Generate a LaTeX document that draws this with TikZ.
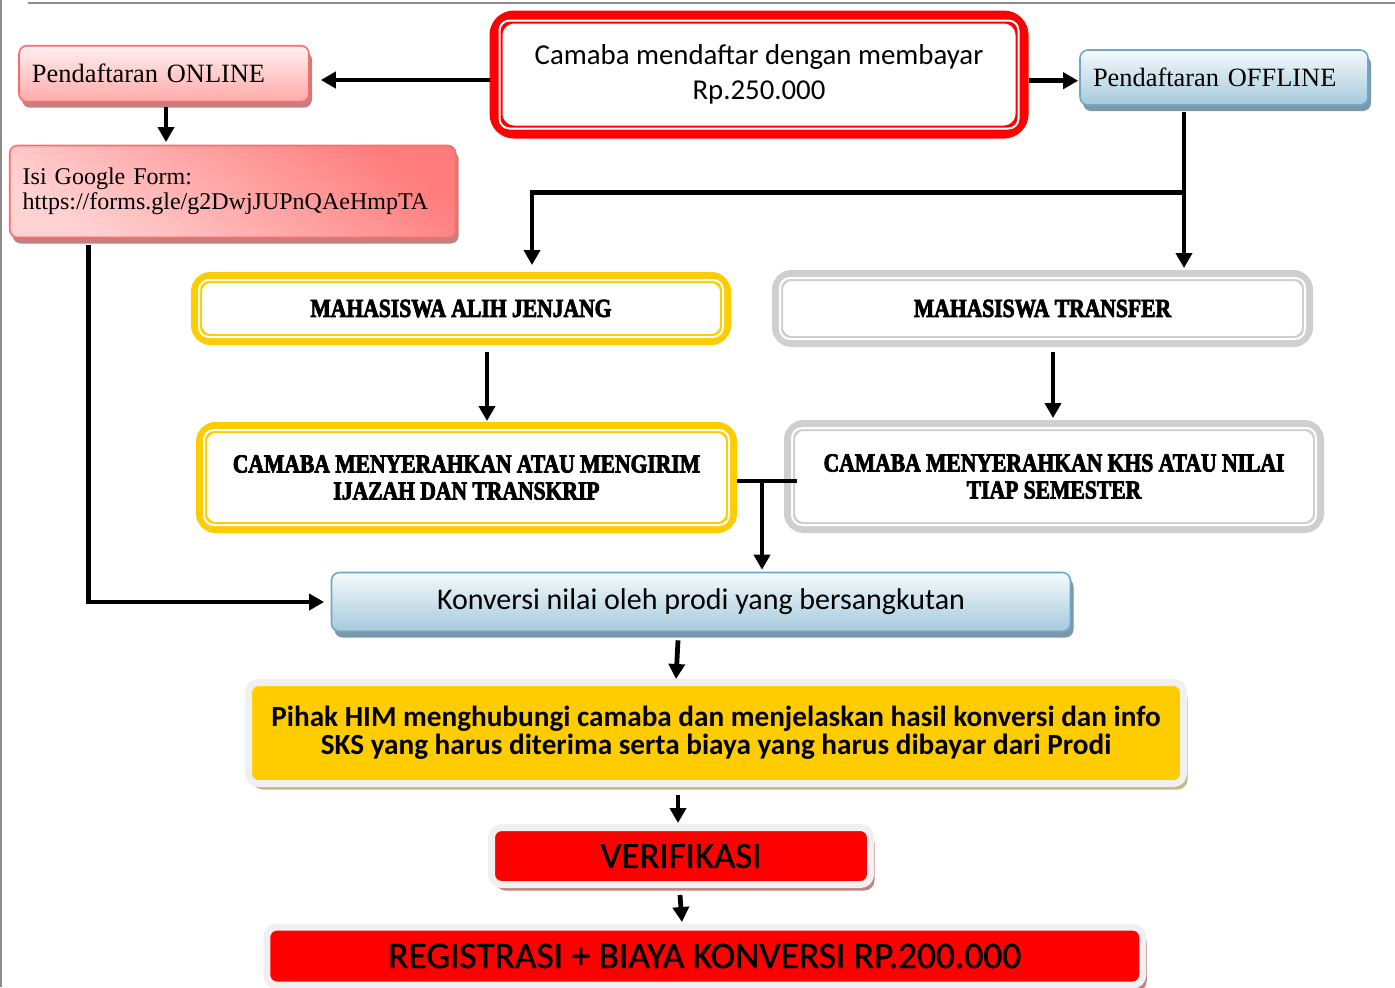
\documentclass[tikz,border=0pt]{standalone}
\usepackage{fontspec}
\setmainfont{Liberation Serif}
\newfontfamily\calibri{Carlito}
\newfontfamily\calibriheavy{Carlito}[FakeBold=1.2]
\newfontfamily\stencil{Liberation Serif Bold}[FakeStretch=0.83,FakeBold=3]
\usetikzlibrary{arrows.meta,calc,shadows}

\definecolor{gold}{HTML}{FFCC00}
\definecolor{silver}{HTML}{CFCFCF}
\definecolor{pinkline}{HTML}{FF6B6B}
\definecolor{pinktop}{HTML}{FFF0F0}
\definecolor{pinkbot}{HTML}{FFA9A9}
\definecolor{pinkdark}{HTML}{FF7C7C}
\definecolor{pinklight}{HTML}{FFD2D2}
\definecolor{pinkshade}{HTML}{C48080}
\definecolor{blueline}{HTML}{6FA8C7}
\definecolor{bluetop}{HTML}{F5FAFC}
\definecolor{bluebot}{HTML}{A5C9DC}
\definecolor{blueshade}{HTML}{7D98A8}
\definecolor{paleline}{HTML}{F0F0F0}
\definecolor{tanshade}{HTML}{C6B784}
\definecolor{roseshade}{HTML}{C38282}
\definecolor{pageline}{HTML}{8C8C8C}

\begin{document}
\begin{tikzpicture}[x=0.5pt,y=-0.5pt,
  arr/.style={line width=2.4pt,-{Triangle[length=7.5pt,width=8pt]}},
  link/.style={line width=2.4pt},
  framed/.style={draw=#1,fill=white,line width=5.5pt,rounded corners=7pt,align=center,
    font=\stencil\fontsize{13}{13.5}\selectfont},
  pinkbox/.style={draw=pinkline,line width=0.8pt,rounded corners=4pt,top color=pinktop,bottom color=pinkbot,
    drop shadow={shadow xshift=1.5pt,shadow yshift=-3pt,fill=pinkshade,opacity=1},align=left,inner xsep=6.5pt},
  bluebox/.style={draw=blueline,line width=0.8pt,rounded corners=4pt,top color=bluetop,bottom color=bluebot,
    drop shadow={shadow xshift=1.5pt,shadow yshift=-3pt,fill=blueshade,opacity=1}},
  solidbox/.style 2 args={draw=paleline,line width=3.5pt,rounded corners=5pt,fill=#1,align=center,
    drop shadow={shadow xshift=2pt,shadow yshift=-3pt,fill=#2,opacity=1}},
]
\useasboundingbox (0,0) rectangle (1395,987);

% page edges
\draw[pageline,line width=1pt] (28,3) -- (1395,3);
\draw[pageline,line width=1pt] (1,0) -- (1,987);

% top row
\node[framed=red,line width=6.5pt,rounded corners=9pt,minimum width=263pt,minimum height=57.5pt,
  font=\calibri\fontsize{14.4}{17.5}\selectfont] (camaba) at (759,74.5)
  {Camaba mendaftar dengan membayar\\Rp.250.000};
\node[pinkbox,text width=132pt,minimum height=28pt,font=\fontsize{13.2}{15}\selectfont] (online) at (164,73.7)
  {Pendaftaran ONLINE};
\node[bluebox,align=left,inner xsep=6.5pt,text width=131pt,minimum height=27.5pt,
  font=\fontsize{13.2}{15}\selectfont] (offline) at (1224,77.5) {Pendaftaran OFFLINE};
\node[pinkbox,top color=pinkdark,bottom color=pinklight,shading angle=-35,text width=210pt,minimum height=46pt,
  font=\fontsize{12}{12.5}\selectfont] (google) at (232.7,191.5)
  {Isi Google Form:\\https://forms.gle/g2DwjJUPnQAeHmpTA};

% two paths
\node[framed=gold,minimum width=264.5pt,minimum height=31pt] (alih) at (461,308.5) {MAHASISWA ALIH JENJANG};
\node[framed=silver,minimum width=265pt,minimum height=33pt] (transfer) at (1042.5,308.5) {MAHASISWA TRANSFER};
\node[framed=gold,minimum width=265pt,minimum height=50pt] (ijazah) at (466.5,477.5)
  {CAMABA MENYERAHKAN ATAU MENGIRIM\\IJAZAH DAN TRANSKRIP};
\node[framed=silver,minimum width=264.5pt,minimum height=51pt] (khs) at (1054,476.5)
  {CAMABA MENYERAHKAN KHS ATAU NILAI\\TIAP SEMESTER};

\foreach \n/\d in {camaba/5pt,alih/4pt,transfer/4pt,ijazah/4pt,khs/4pt}
  \draw[white,line width=1pt,rounded corners=5pt] ($(\n.south west)+(\d,\d)$) rectangle ($(\n.north east)-(\d,\d)$);

% bottom
\node[bluebox,minimum width=369.5pt,minimum height=29.5pt,font=\calibri\fontsize{15}{17}\selectfont] (konversi)
  at (701,602) {Konversi nilai oleh prodi yang bersangkutan};
\node[solidbox={gold}{tanshade},minimum width=467.5pt,minimum height=50.5pt,
  font=\calibri\bfseries\fontsize{14.6}{14}\selectfont] (pihak) at (716,733)
  {Pihak HIM menghubungi camaba dan menjelaskan hasil konversi dan info\\SKS yang harus diterima serta biaya yang harus dibayar dari Prodi};
\node[solidbox={red}{roseshade},minimum width=189.5pt,minimum height=28.5pt,
  font=\calibriheavy\fontsize{18.4}{20}\selectfont] (verif) at (681,856) {VERIFIKASI};
\node[solidbox={red}{roseshade},minimum width=438pt,minimum height=29pt,
  font=\calibriheavy\fontsize{18.7}{20}\selectfont] (reg) at (704.75,956) {REGISTRASI + BIAYA KONVERSI RP.200.000};

% connectors
\draw[arr] ($(camaba.west)+(0,-2.75pt)$) -- ($(online.east |- camaba.west)+(5.5pt,-2.75pt)$);
\draw[arr] ($(camaba.east)+(0,-3.1pt)$) -- ($(offline.west |- camaba.east)+(-0.5pt,-3.1pt)$);
\draw[arr] ($(online.south)+(1pt,-2pt)$) -- ($(online.south |- google.north)+(1pt,1.3pt)$);
\draw[arr] ($(google.south west)+(39.7pt,-3.5pt)$) |- ($(konversi.west)+(-3.3pt,0)$);
\draw[arr] ($(offline.south)+(-20pt,-3.3pt)$) -- ($(offline.south |- transfer.north)+(-20pt,1pt)$);
\draw[arr] ($(offline.south)+(-21pt,-43.3pt)$) -| ($(alih.north)+(35.5pt,3.5pt)$);
\draw[arr] ($(alih.south)+(13pt,-3.5pt)$) -- ($(alih.south |- ijazah.north)+(13pt,0.5pt)$);
\draw[arr] ($(transfer.south)+(5.25pt,-2.5pt)$) -- ($(transfer.south |- khs.north)+(5.25pt,1pt)$);
\draw[link] ($(ijazah.east)+(0,-1.75pt)$) -- ($(khs.west |- ijazah.east)+(6.5pt,-1.75pt)$);
\draw[arr] ($(ijazah.east)+(12.5pt,-1.75pt)$) -- ($(ijazah.east |- konversi.north)+(12.5pt,1pt)$);
\draw[arr] ($(konversi.south)+(-11.5pt,-4pt)$) -- ($(pihak.north)+(-20pt,0pt)$);
\draw[arr] ($(pihak.south)+(-19pt,-4pt)$) -- ($(pihak.south |- verif.north)+(-19pt,0.5pt)$);
\draw[arr] ($(verif.south)+(-0.5pt,-3.5pt)$) -- ($(reg.north)+(-11.4pt,0.75pt)$);
\end{tikzpicture}
\end{document}
